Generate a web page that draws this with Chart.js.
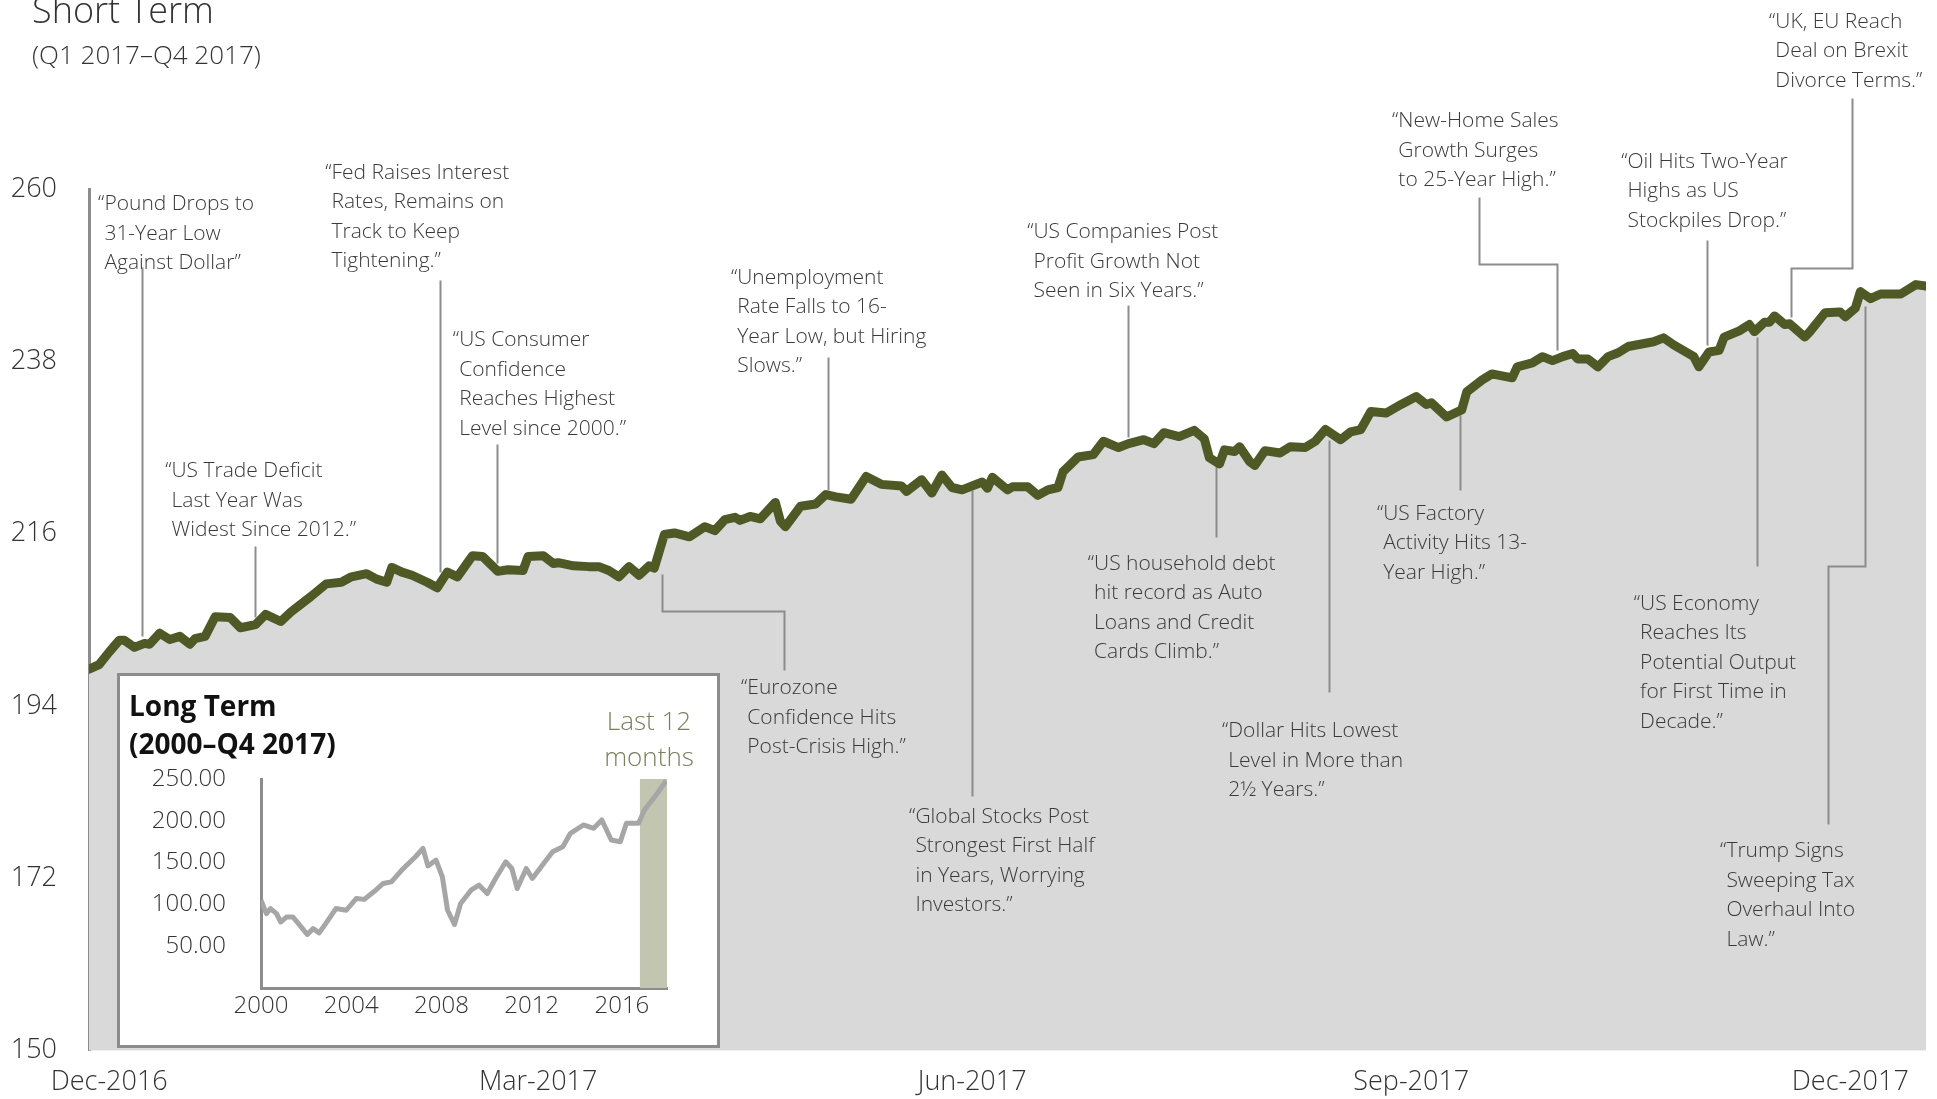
<!DOCTYPE html>
<html>
<head>
<meta charset="utf-8">
<script src="https://cdn.jsdelivr.net/npm/chart.js@4.4.1/dist/chart.umd.min.js"></script>
<style>
  body { margin: 0; width: 1937px; height: 1099px; position: relative; overflow: hidden; background: #fff; font-family: "Open Sans", sans-serif; }
  #main { position: absolute; left: 0; top: 0; }
  .title { position: absolute; left: 32px; top: -8px; font-size: 36px; line-height: 36px; font-weight: 300; color: #333; white-space: nowrap; }
  .subtitle { position: absolute; left: 32px; top: 41px; font-size: 26px; line-height: 26px; font-weight: 300; color: #333; white-space: nowrap; }
  #inset { position: absolute; left: 117px; top: 673px; width: 597px; height: 369px; border: 3px solid #8c8c8c; background: #fff; }
  #long { position: absolute; left: 0; top: 0; }
  .inset-title { position: absolute; left: 9px; top: 10px; font-size: 28px; line-height: 38px; font-weight: 700; color: #111; white-space: nowrap; }
  .last-months { position: absolute; left: 459px; top: 26px; width: 140px; text-align: center; font-size: 26px; line-height: 36px; font-weight: 300; color: #7b7f5d; }
</style>
</head>
<body>
<canvas id="main" width="1937" height="1099"></canvas>
<div class="title">Short Term</div>
<div class="subtitle">(Q1 2017–Q4 2017)</div>
<div id="inset">
  <canvas id="long" width="597" height="369"></canvas>
  <div class="inset-title">Long Term<br>(2000–Q4 2017)</div>
  <div class="last-months">Last 12<br>months</div>
</div>
<script>
// Short term series: day offset from 30 Dec 2016, index level
const DAYS = [0, 2, 4, 6, 7, 9, 11, 12, 14, 16, 18, 20, 21, 23, 25, 28, 30, 33, 35, 38, 40, 44, 47, 50, 52, 55, 57, 59, 60, 62, 64, 67, 69, 71, 73, 76, 78, 81, 83, 86, 87, 90, 92, 93, 96, 99, 101, 103, 105, 107, 109, 111, 112, 114, 116, 119, 122, 124, 126, 128, 129, 131, 133, 136, 137, 138, 141, 144, 146, 148, 151, 154, 157, 161, 162, 165, 167, 169, 171, 173, 177, 178, 179, 182, 183, 186, 188, 190, 192, 193, 196, 199, 201, 204, 206, 209, 211, 213, 216, 219, 221, 222, 224, 225, 227, 228, 230, 231, 233, 236, 238, 241, 243, 245, 248, 250, 252, 254, 257, 260, 263, 265, 266, 269, 272, 273, 276, 278, 282, 283, 286, 288, 290, 292, 294, 295, 297, 299, 301, 303, 305, 310, 312, 314, 318, 319, 321, 323, 324, 327, 329, 330, 332, 333, 334, 336, 337, 340, 341, 344, 347, 348, 350, 351, 353, 355, 359, 362, 364];
const VALUES = [198.7, 199.3, 200.9, 202.4, 202.4, 201.5, 202.0, 201.9, 203.3, 202.5, 202.9, 201.9, 202.6, 202.9, 205.4, 205.3, 204.0, 204.4, 205.7, 204.8, 206.0, 208.0, 209.6, 209.8, 210.5, 210.9, 210.2, 209.8, 211.7, 211.1, 210.7, 209.8, 209.1, 211.1, 210.5, 213.2, 213.1, 211.2, 211.4, 211.3, 213.1, 213.2, 212.2, 212.3, 211.9, 211.8, 211.8, 211.3, 210.5, 211.8, 210.7, 211.9, 211.6, 215.9, 216.1, 215.6, 216.9, 216.4, 217.8, 218.1, 217.7, 218.2, 217.9, 220.0, 217.6, 216.9, 219.5, 219.8, 221.0, 220.7, 220.4, 223.3, 222.3, 222.1, 221.4, 222.9, 221.2, 223.5, 221.9, 221.6, 222.6, 221.8, 223.2, 221.6, 222.0, 222.0, 220.9, 221.6, 221.9, 223.9, 225.8, 226.1, 227.8, 227.0, 227.5, 228.0, 227.5, 228.9, 228.4, 229.2, 228.1, 225.7, 224.9, 226.7, 226.5, 227.1, 225.2, 224.7, 226.6, 226.3, 227.1, 227.0, 227.8, 229.3, 228.0, 229.0, 229.3, 231.6, 231.4, 232.5, 233.5, 232.5, 232.7, 230.9, 231.8, 234.1, 235.6, 236.4, 235.9, 237.3, 237.8, 238.6, 238.1, 238.6, 239.0, 238.3, 238.3, 237.3, 238.6, 239.1, 239.9, 240.5, 241.0, 240.1, 238.6, 237.3, 239.2, 239.4, 241.1, 241.9, 242.7, 241.8, 243.0, 243.0, 243.8, 242.7, 242.8, 241.1, 241.8, 244.2, 244.3, 243.7, 244.8, 246.9, 246.0, 246.6, 246.6, 247.8, 247.6];

const TICK_DAYS = [4, 89, 175, 262, 349];
const TICK_LABELS = ["Dec-2016", "Mar-2017", "Jun-2017", "Sep-2017", "Dec-2017"];

// Long term series
const LT_YEARS = [2000.0, 2000.24, 2000.42, 2000.69, 2000.87, 2001.14, 2001.41, 2001.78, 2002.05, 2002.31, 2002.58, 2002.87, 2003.32, 2003.78, 2004.22, 2004.58, 2005.04, 2005.41, 2005.78, 2006.31, 2006.85, 2007.18, 2007.40, 2007.76, 2008.04, 2008.27, 2008.58, 2008.85, 2009.31, 2009.67, 2010.03, 2010.40, 2010.85, 2011.12, 2011.36, 2011.76, 2012.03, 2012.48, 2012.93, 2013.38, 2013.72, 2014.29, 2014.75, 2015.11, 2015.53, 2015.93, 2016.20, 2016.74, 2017.0, 2017.55, 2017.96];
const LT_VALUES = [105, 89, 95, 89, 79, 85, 85, 73, 64, 71, 66, 77, 95, 93, 107, 106, 116, 125, 127, 143, 157, 167, 146, 153, 133, 93, 76, 101, 117, 123, 113, 131, 151, 143, 119, 143, 131, 147, 163, 169, 185, 195, 191, 201, 177, 175, 197, 197, 213, 232, 248];
const LT_TICKS = [2000, 2004, 2008, 2012, 2016];
const LAST_12 = [2016.8, 2018];

// Headlines: text anchor and callout path, both in chart units (day, level)
const EVENTS = [
  { lines: ["“Pound Drops to", "31-Year Low", "Against Dollar”"], at: [1.8, 258.2], path: [[10.5, 250.1], [10.5, 203.0]] },
  { lines: ["“US Trade Deficit", "Last Year Was", "Widest Since 2012.”"], at: [15.1, 224.1], path: [[32.9, 214.4], [32.9, 205.4]] },
  { lines: ["“Fed Raises Interest", "Rates, Remains on", "Track to Keep", "Tightening.”"], at: [46.8, 262.2], path: [[69.6, 248.4], [69.6, 211.1]] },
  { lines: ["“US Consumer", "Confidence", "Reaches Highest", "Level since 2000.”"], at: [72.1, 240.8], path: [[80.8, 227.4], [80.8, 212.3]] },
  { lines: ["“Unemployment", "Rate Falls to 16-", "Year Low, but Hiring", "Slows.”"], at: [127.2, 248.8], path: [[146.4, 238.5], [146.4, 221.6]] },
  { lines: ["“US Companies Post", "Profit Growth Not", "Seen in Six Years.”"], at: [185.9, 254.6], path: [[205.9, 245.2], [205.9, 228.4]] },
  { lines: ["“New-Home Sales", "Growth Surges", "to 25-Year High.”"], at: [258.2, 268.8], path: [[275.4, 259.0], [275.4, 250.4], [290.9, 250.4], [290.9, 239.5]] },
  { lines: ["“Oil Hits Two-Year", "Highs as US", "Stockpiles Drop.”"], at: [303.6, 263.6], path: [[320.6, 253.5], [320.6, 240.1]] },
  { lines: ["“UK, EU Reach", "Deal on Brexit", "Divorce Terms.”"], at: [332.9, 281.5], path: [[349.3, 271.6], [349.3, 249.9], [337.3, 249.9], [337.3, 243.6]] },
  { lines: ["“Eurozone", "Confidence Hits", "Post-Crisis High.”"], at: [129.2, 196.4], path: [[137.7, 198.6], [137.7, 206.1], [113.5, 206.1], [113.5, 210.8]] },
  { lines: ["“Global Stocks Post", "Strongest First Half", "in Years, Worrying", "Investors.”"], at: [162.5, 180.0], path: [[175.0, 182.5], [175.0, 221.6]] },
  { lines: ["“US household debt", "hit record as Auto", "Loans and Credit", "Cards Climb.”"], at: [197.9, 212.3], path: [[223.3, 215.6], [223.3, 224.7]] },
  { lines: ["“US Factory", "Activity Hits 13-", "Year High.”"], at: [255.2, 218.7], path: [[271.7, 221.6], [271.7, 231.2]] },
  { lines: ["“Dollar Hits Lowest", "Level in More than", "2½ Years.”"], at: [224.5, 190.9], path: [[245.7, 195.8], [245.7, 228.0]] },
  { lines: ["“US Economy", "Reaches Its", "Potential Output", "for First Time in", "Decade.”"], at: [306.1, 207.2], path: [[330.5, 211.9], [330.5, 241.1]] },
  { lines: ["“Trump Signs", "Sweeping Tax", "Overhaul Into", "Law.”"], at: [323.2, 175.6], path: [[344.6, 178.9], [344.6, 211.9], [351.9, 211.9], [351.9, 245.1]] }
];

const OLIVE = "#4e5925";
const TEXT = "#3a3a3a";
const CALLOUT = "#8c8c8c";
const FONT = "'Open Sans', sans-serif";

const points = DAYS.map((d, i) => ({ x: d, y: VALUES[i] }));

// Callouts go between the grey area and the olive line, headlines on top
const eventsPlugin = {
  id: "events",
  afterDatasetDraw(chart, args) {
    if (args.index !== 0) return;
    const { ctx, scales } = chart;
    ctx.save();
    ctx.strokeStyle = CALLOUT;
    ctx.lineWidth = 2;
    EVENTS.forEach((ev) => {
      ctx.beginPath();
      ev.path.forEach(([d, v], i) => {
        const x = Math.round(scales.x.getPixelForValue(d)) + 0.5;
        const y = Math.round(scales.y.getPixelForValue(v)) + 0.5;
        if (i === 0) ctx.moveTo(x, y);
        else ctx.lineTo(x, y);
      });
      ctx.stroke();
    });
    ctx.restore();
  },
  afterDraw(chart) {
    const { ctx, scales } = chart;
    ctx.save();
    ctx.font = "300 21px " + FONT;
    ctx.fillStyle = TEXT;
    ctx.textBaseline = "middle";
    ctx.textAlign = "left";
    const indent = ctx.measureText("“").width;
    EVENTS.forEach((ev) => {
      const x = scales.x.getPixelForValue(ev.at[0]);
      const y = scales.y.getPixelForValue(ev.at[1]) + 1;
      ev.lines.forEach((line, i) => {
        ctx.fillText(line, i === 0 ? x : x + indent, y + i * 29.5);
      });
    });
    ctx.restore();
  },
};

new Chart(document.getElementById("main"), {
  type: "line",
  data: {
    datasets: [
      {
        data: points,
        fill: "start",
        backgroundColor: "#d9d9d9",
        borderColor: "rgba(0,0,0,0)",
        borderWidth: 0,
        pointRadius: 0,
        order: 2,
      },
      {
        data: points,
        fill: false,
        borderColor: OLIVE,
        borderWidth: 9,
        borderJoinStyle: "round",
        borderCapStyle: "round",
        pointRadius: 0,
        order: 1,
      },
    ],
  },
  options: {
    responsive: false,
    animation: false,
    layout: { padding: { top: 189, right: 11, left: 0, bottom: 0 } },
    plugins: {
      legend: { display: false },
      tooltip: { enabled: false },
    },
    scales: {
      x: {
        type: "linear",
        min: 0,
        max: 364,
        grid: { display: false, drawTicks: false },
        border: { display: false },
        afterBuildTicks: (scale) => {
          scale.ticks = TICK_DAYS.map((v) => ({ value: v }));
        },
        afterFit: (scale) => {
          scale.height = 45;
        },
        ticks: {
          autoSkip: false,
          maxRotation: 0,
          padding: 18,
          color: "#333",
          font: { family: FONT, size: 27, weight: "300", lineHeight: 1 },
          callback: (value, index) => TICK_LABELS[index],
        },
      },
      y: {
        min: 150,
        max: 260,
        z: 1,
        grid: { display: false, drawTicks: false },
        border: { display: true, color: CALLOUT, width: 3 },
        afterFit: (scale) => {
          scale.width = 89;
        },
        ticks: {
          stepSize: 22,
          padding: 32,
          color: "#333",
          font: { family: FONT, size: 27, weight: "300" },
        },
      },
    },
  },
  plugins: [eventsPlugin],
});

// Long term inset
const bandPlugin = {
  id: "band",
  beforeDatasetsDraw(chart) {
    const { ctx, scales, chartArea } = chart;
    const x0 = scales.x.getPixelForValue(LAST_12[0]);
    const x1 = scales.x.getPixelForValue(LAST_12[1]);
    ctx.save();
    ctx.fillStyle = "#c2c5b0";
    ctx.fillRect(x0, chartArea.top, x1 - x0, chartArea.bottom - chartArea.top);
    ctx.restore();
  },
};

new Chart(document.getElementById("long"), {
  type: "line",
  data: {
    datasets: [
      {
        data: LT_YEARS.map((y, i) => ({ x: y, y: LT_VALUES[i] })),
        borderColor: "#a6a6a6",
        borderWidth: 5,
        borderJoinStyle: "round",
        pointRadius: 0,
        fill: false,
      },
    ],
  },
  options: {
    responsive: false,
    animation: false,
    layout: { padding: { top: 103, right: 50, left: 0, bottom: 0 } },
    plugins: {
      legend: { display: false },
      tooltip: { enabled: false },
    },
    scales: {
      x: {
        type: "linear",
        min: 2000,
        max: 2018,
        grid: { display: false, drawTicks: false },
        border: { display: true, color: CALLOUT, width: 3 },
        afterBuildTicks: (scale) => {
          scale.ticks = LT_TICKS.map((v) => ({ value: v }));
        },
        afterFit: (scale) => {
          scale.height = 57;
        },
        ticks: {
          autoSkip: false,
          maxRotation: 0,
          padding: 4,
          color: "#333",
          font: { family: FONT, size: 24, weight: "300" },
          callback: (value) => String(value),
        },
      },
      y: {
        min: 0,
        max: 250,
        grid: { display: false, drawTicks: false },
        border: { display: true, color: CALLOUT, width: 3 },
        afterFit: (scale) => {
          scale.width = 141;
        },
        ticks: {
          stepSize: 50,
          padding: 35,
          color: "#333",
          font: { family: FONT, size: 24, weight: "300" },
          callback: (value) => (value === 0 ? "" : value.toFixed(2)),
        },
      },
    },
  },
  plugins: [bandPlugin],
});
</script>
</body>
</html>
